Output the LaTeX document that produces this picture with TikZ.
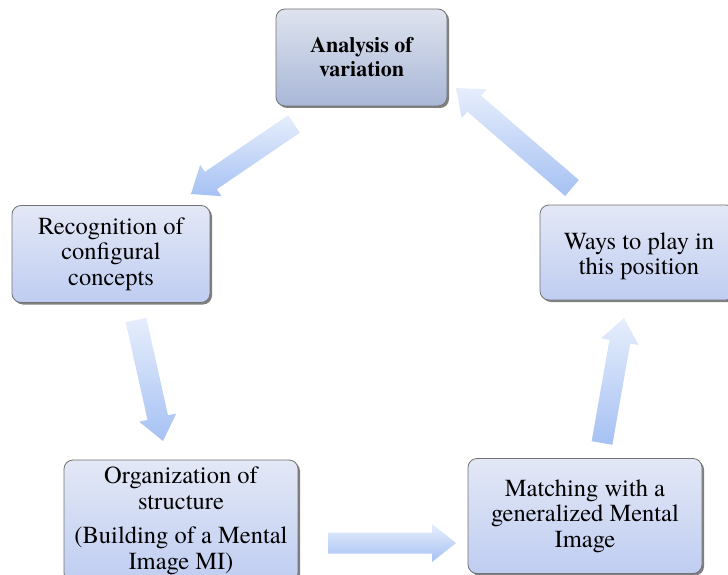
\documentclass[tikz,border=0pt]{standalone}
\usepackage{fontspec}
\setmainfont{texgyretermes}[Extension=.otf, UprightFont=*-regular, BoldFont=*-bold, ItalicFont=*-italic, BoldItalicFont=*-bolditalic]
\usetikzlibrary{calc,shadows}
\definecolor{boxtop}{HTML}{E3E8F6}
\definecolor{boxbot}{HTML}{BFCDF1}
\definecolor{topboxtop}{HTML}{DEE3EE}
\definecolor{topboxbot}{HTML}{A9B7D7}
\definecolor{arrtop}{HTML}{E6EEFC}
\definecolor{arrbot}{HTML}{A6C1F3}
\newcommand{\blockarrow}[2]{%
  \coordinate (hb) at ($(#2)!24pt!(#1)$);
  \path[top color=arrtop, bottom color=arrbot, draw=none]
    ($(#1)!10.5pt!90:(#2)$) --
    ($(hb)!10.5pt!90:(#2)$) --
    ($(hb)!19pt!90:(#2)$) --
    (#2) --
    ($(hb)!19pt!-90:(#2)$) --
    ($(hb)!10.5pt!-90:(#2)$) --
    ($(#1)!10.5pt!-90:(#2)$) -- cycle;}
\begin{document}
\begin{tikzpicture}[x=1pt,y=-1pt,
  box/.style={draw=black!55, line width=0.8pt, rounded corners=9pt,
    top color=boxtop, bottom color=boxbot,
    drop shadow={shadow xshift=2pt, shadow yshift=-2pt, fill=black!55, opacity=0.9},
    align=center, inner sep=0pt, font=\rmfamily\fontsize{24.5}{25.5}\selectfont},
  topbox/.style={box, top color=topboxtop, bottom color=topboxbot,
    font=\rmfamily\fontsize{22}{24}\selectfont\bfseries},
  boxtext/.style={align=center, inner sep=0pt, font=\rmfamily\fontsize{24.5}{25}\selectfont}
]
\useasboundingbox (0,0) rectangle (728,575);
\fill[white] (0,0) rectangle (728,575);

\node[topbox, minimum width=171pt, minimum height=97pt] (ana) at (361.5,57.5) {Analysis of\\variation};
\node[box, minimum width=198pt, minimum height=97pt] (rec) at (111,254) {Recognition of\\configural\\concepts};
\node[box, minimum width=234pt, minimum height=122pt] (org) at (181,521) {Organization of\\structure\\[9pt](Building of a Mental\\Image MI)};
\node[box, minimum width=234pt, minimum height=115pt] (mat) at (585,516) {Matching with a\\generalized Mental\\Image};
\node[box, minimum width=195pt, minimum height=95pt] (way) at (637.5,252.5) {};
\node[boxtext] (waytext) at (639,256.5) {Ways to play in\\this position};

\coordinate (a1s) at (294,124);
\coordinate (a1e) at (191,194);
\coordinate (a2s) at (136,320);
\coordinate (a2e) at (163,441);
\coordinate (a3s) at (328,543);
\coordinate (a3e) at (456,543);
\coordinate (a4s) at (602,443);
\coordinate (a4e) at (624,318);
\coordinate (a5s) at (572,188);
\coordinate (a5e) at (456,88);

\blockarrow{a1s}{a1e}
\blockarrow{a2s}{a2e}
\blockarrow{a3s}{a3e}
\blockarrow{a4s}{a4e}
\blockarrow{a5s}{a5e}
\end{tikzpicture}
\end{document}
